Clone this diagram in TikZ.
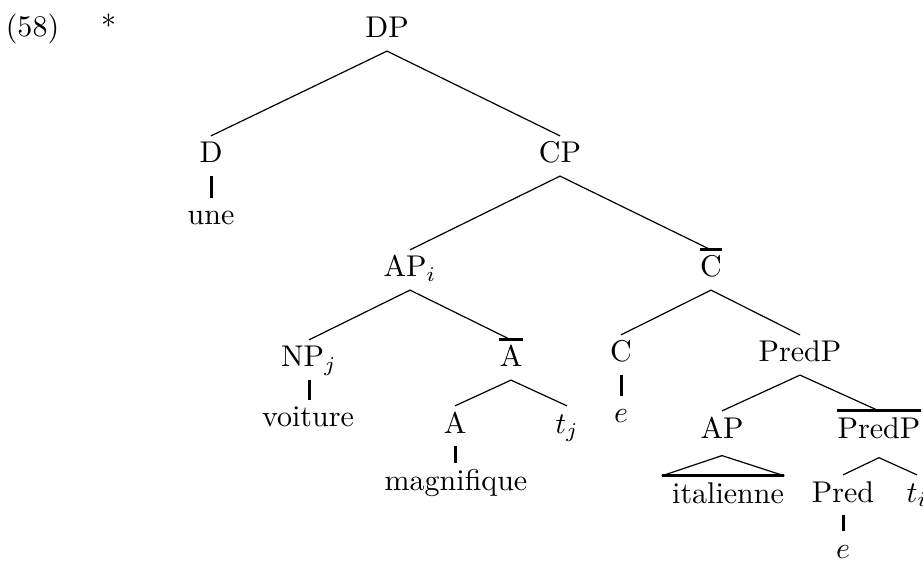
\documentclass[tikz,border=0pt]{standalone}
\tikzset{
  lbl/.style={inner xsep=0pt, inner ysep=1.17pt, text height=7.67pt, text depth=3pt,
              anchor=base, font=\fontsize{10}{12}\selectfont},
  edge/.style={line width=0.4pt},
  term/.style={line width=1pt},
  barline/.style={line width=1pt}
}
\begin{document}
\begin{tikzpicture}[x=0.3333pt, y=-0.3333pt]
\useasboundingbox (0,0) rectangle (923,562);
% labels
\node[lbl] (num) at (32.5,37) {(58)};
\node[lbl] (star) at (108.5,37) {*};
\node[lbl] (dp) at (387,38) {DP};
\node[lbl] (d) at (211,163) {D};
\node[lbl] (une) at (211,225) {une};
\node[lbl] (cp) at (560,163) {CP};
\node[lbl] (api) at (410,277) {AP$_i$};
\node[lbl] (cbar) at (711,277) {C};
\node[lbl] (npj) at (309,367) {NP$_j$};
\node[lbl] (voit) at (308,427) {voiture};
\node[lbl] (abar) at (511,367) {A};
\node[lbl] (a) at (455,433) {A};
\node[lbl] (magn) at (456,490) {magnifique};
\node[lbl] (tj) at (567,433) {$t_j$};
\node[lbl] (c) at (621,362) {C};
\node[lbl] (e1) at (621,423) {$e$};
\node[lbl] (predp) at (800,362) {PredP};
\node[lbl] (ap) at (722,438) {AP};
\node[lbl] (ital) at (728,503) {italienne};
\node[lbl] (pbar) at (879,438) {PredP};
\node[lbl] (pred) at (843,502) {Pred};
\node[lbl] (e2) at (843,558) {$e$};
\node[lbl] (ti) at (917,502) {$t_i$};
% bars
\draw[barline] (cbar.north west) -- (cbar.north east);
\draw[barline] (abar.north west) -- (abar.north east);
\draw[barline] (pbar.north west) -- (pbar.north east);
% branches
\draw[edge] (d.north) -- (dp.south) -- (cp.north);
\draw[edge] (api.north) -- (cp.south) -- (cbar.north);
\draw[edge] (npj.north) -- (api.south) -- (abar.north);
\draw[edge] (a.north) -- (abar.south) -- (tj.north);
\draw[edge] (c.north) -- (cbar.south) -- (predp.north);
\draw[edge] (ap.north) -- (predp.south) -- (pbar.north);
\draw[edge] (pred.north) -- ([yshift=-2.2pt]pbar.south) -- (ti.north);
% terminals
\draw[term] (d.south) -- (d.south |- une.north);
\draw[term] (npj.south) -- (npj.south |- voit.north);
\draw[term] (a.south) -- (a.south |- magn.north);
\draw[term] (c.south) -- (c.south |- e1.north);
\draw[term] (pred.south) -- (pred.south |- e2.north);
% triangle
\draw[edge] ([xshift=-3.3pt]ital.north west) -- ([yshift=-1.5pt]ap.south) -- (ital.north east);
\draw[term] ([xshift=-3.3pt]ital.north west) -- (ital.north east);
\end{tikzpicture}
\end{document}
